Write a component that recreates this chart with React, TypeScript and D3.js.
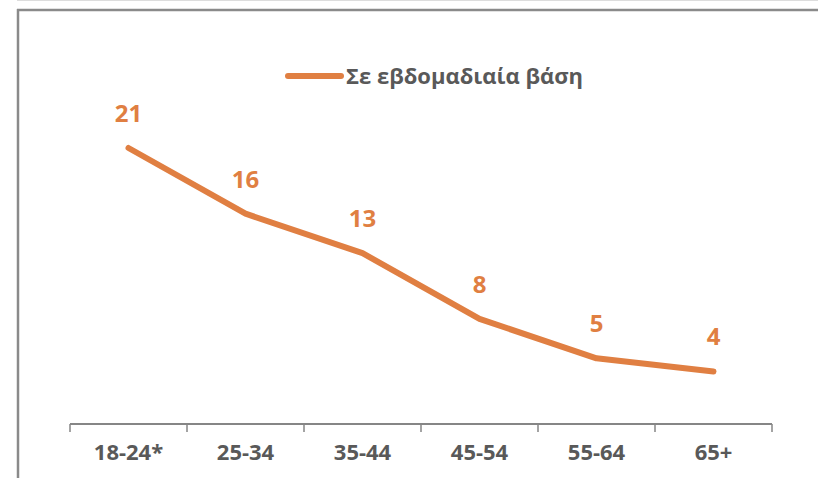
import React from "react";
import * as d3 from "d3";

const categories = ["18-24*", "25-34", "35-44", "45-54", "55-64", "65+"];
const weekly = [21, 16, 13, 8, 5, 4];
const seriesName = "Σε εβδομαδιαία βάση";

const W = 818;
const H = 478;
const ORANGE = "#E07F42";
const GREY_TEXT = "#595959";
const AXIS = "#868686";
const FONT = "'Open Sans', sans-serif";

export default function App() {
  const x = d3.scaleBand<string>().domain(categories).range([70, 772]);
  const y = d3.scaleLinear().domain([0, 21]).range([424, 148]);

  const line = d3
    .line<number>()
    .x((_, i) => (x(categories[i]) as number) + x.bandwidth() / 2)
    .y((d) => y(d));

  const ticks = [...categories.map((c) => x(c) as number), 772];

  return (
    <svg
      width={W}
      height={H}
      style={{ position: "fixed", left: 0, top: 0, background: "#fff" }}
    >
      {/* frame */}
      <line x1={17} x2={W} y1={0.5} y2={0.5} stroke="#dddddd" strokeWidth={1} />
      <line x1={17} x2={W} y1={10} y2={10} stroke="#8a8a8a" strokeWidth={2.5} />
      <line x1={18} x2={18} y1={9} y2={H} stroke="#8a8a8a" strokeWidth={2.5} />

      {/* legend */}
      <line x1={288} x2={341} y1={76} y2={76} stroke={ORANGE} strokeWidth={6} strokeLinecap="round" />
      <text x={346} y={84} fontFamily={FONT} fontWeight={700} fontSize={22} fill={GREY_TEXT}>
        {seriesName}
      </text>

      {/* x axis */}
      <line x1={70} x2={772} y1={424} y2={424} stroke={AXIS} strokeWidth={2} />
      {ticks.map((t, i) => (
        <line key={i} x1={t} x2={t} y1={424} y2={432} stroke={AXIS} strokeWidth={1.5} />
      ))}
      {categories.map((c) => (
        <text
          key={c}
          x={(x(c) as number) + x.bandwidth() / 2}
          y={460}
          textAnchor="middle"
          fontFamily={FONT}
          fontWeight={700}
          fontSize={22}
          fill={GREY_TEXT}
        >
          {c}
        </text>
      ))}

      {/* series */}
      <path
        d={line(weekly) || ""}
        fill="none"
        stroke={ORANGE}
        strokeWidth={6}
        strokeLinecap="round"
        strokeLinejoin="round"
      />
      {weekly.map((v, i) => (
        <text
          key={i}
          x={(x(categories[i]) as number) + x.bandwidth() / 2}
          y={y(v) - 26}
          textAnchor="middle"
          fontFamily={FONT}
          fontWeight={700}
          fontSize={24}
          fill={ORANGE}
        >
          {v}
        </text>
      ))}
    </svg>
  );
}
